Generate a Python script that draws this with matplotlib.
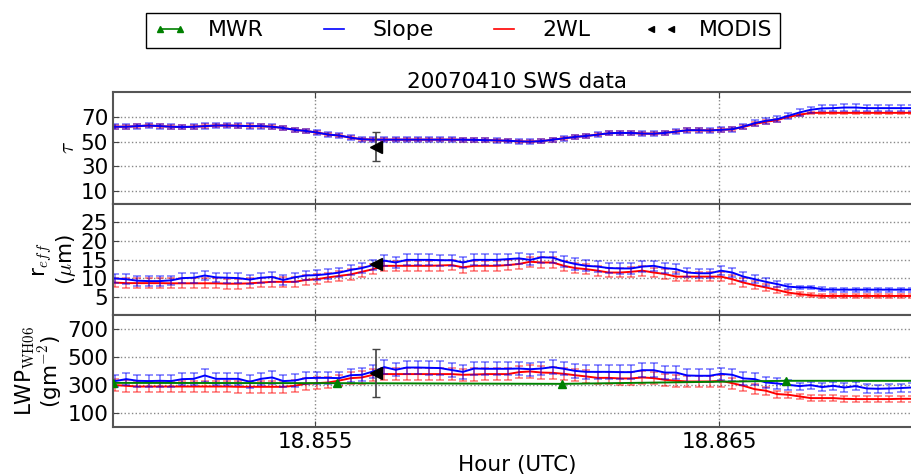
import numpy as np
import matplotlib
matplotlib.use("Agg")
import matplotlib.pyplot as plt
from matplotlib.lines import Line2D

plt.rcParams['mathtext.fontset'] = 'cm'
plt.rcParams['font.size'] = 15.5

# SWS retrievals, one every second starting 18:51:00 UTC
sec = np.arange(72)
hours = 18.85005 + sec / 3600.0

tau_slope = [62, 62, 62.5, 63, 62.5, 62, 61.8, 62, 62.5, 63, 63, 62.8, 62.5, 62.5, 62, 61,
             59.5, 58.6, 57.3, 55.7, 54.9, 53.2, 51.9, 51.6, 51.6, 51.6, 51.6, 51.6, 51.6, 51.6,
             51.6, 51.5, 51.4, 51.2, 51.0, 50.7, 50.2, 50.0, 50.4, 51.5, 52.7, 53.8, 54.6, 55.6,
             56.8, 57.0, 57.0, 56.5, 56.4, 57.0, 58.1, 59.2, 59.2, 59.0, 59.5, 60.0, 62.2, 64.9,
             66.8, 68.1, 70.8, 73.5, 75.7, 76.8, 77.0, 77.5, 77.5, 77.0, 77.0, 77.0, 77.0, 77.0]
tau_2wl = [62, 62, 62.5, 63, 62.5, 62, 61.8, 62, 62.5, 63, 63, 62.8, 62.5, 62.5, 62, 61,
           59.5, 58.6, 57.3, 55.7, 54.9, 53.2, 51.9, 51.6, 51.6, 51.6, 51.6, 51.6, 51.6, 51.6,
           51.6, 51.5, 51.4, 51.2, 51.0, 50.7, 50.2, 50.0, 50.4, 51.5, 52.7, 53.8, 54.6, 55.6,
           56.8, 57.0, 57.0, 56.5, 56.4, 57.0, 58.1, 59.2, 59.2, 59.0, 59.5, 60.0, 61.8, 64.2,
           66.0, 67.3, 70.0, 71.6, 73.2, 73.2, 73.2, 73.2, 73.2, 73.2, 73.2, 73.2, 73.2, 73.2]
tau_slope_err = [2.0, 2.0, 2.0, 2.0, 2.0, 2.0, 2.0, 2.2, 2.2, 2.2, 2.2, 2.2, 2.2, 2.0, 2.0, 2.0,
                 1.8, 1.8, 1.8, 1.8, 1.8, 1.8, 1.8, 1.8, 1.8, 1.8, 1.8, 1.8, 1.8, 1.8,
                 1.8, 1.8, 1.8, 1.8, 1.8, 1.8, 1.8, 1.8, 1.8, 1.8, 1.8, 1.8, 1.8, 1.8,
                 1.8, 1.8, 1.8, 1.8, 1.8, 1.8, 2.0, 2.0, 2.0, 2.0, 2.0, 2.0, 2.2, 2.2,
                 2.2, 2.2, 2.5, 2.5, 2.5, 2.5, 2.5, 2.5, 2.5, 2.5, 2.5, 2.5, 2.5, 2.5]
tau_2wl_err = [1.5, 1.5, 1.5, 1.5, 1.5, 1.5, 1.5, 1.5, 1.5, 1.5, 1.5, 1.5, 1.5, 1.5, 1.5, 1.5,
               1.4, 1.4, 1.4, 1.4, 1.4, 1.4, 1.4, 1.4, 1.4, 1.4, 1.4, 1.4, 1.4, 1.4,
               1.4, 1.4, 1.4, 1.4, 1.4, 1.4, 1.4, 1.4, 1.4, 1.4, 1.4, 1.4, 1.4, 1.4,
               1.4, 1.4, 1.4, 1.4, 1.4, 1.4, 1.4, 1.4, 1.4, 1.4, 1.4, 1.4, 1.4, 1.4,
               1.4, 1.2, 1.0, 1.0, 1.0, 1.0, 1.0, 1.0, 1.0, 1.0, 1.0, 1.0, 1.0, 1.0]

reff_slope = [9.9, 9.7, 9.3, 9.2, 9.2, 9.4, 10.0, 10.1, 10.7, 10.2, 10.1, 10.0, 9.6, 10.1, 10.3,
              9.5, 10.2, 10.7, 10.8, 11.1, 11.5, 12.2, 12.7, 13.5, 14.7, 14.2, 14.9, 14.9, 14.9,
              14.8, 14.8, 14.2, 14.9, 14.9, 14.9, 15.1, 15.3, 14.9, 15.6, 15.5, 14.5, 13.8, 13.3,
              13.1, 12.7, 12.6, 12.6, 13.1, 13.3, 12.7, 12.4, 11.5, 11.3, 11.3, 12.0, 11.5, 10.4,
              9.7, 9.0, 8.4, 7.7, 7.5, 7.5, 7.0, 6.9, 6.9, 6.9, 6.9, 6.9, 6.9, 6.9, 6.9]
reff_2wl = [8.8, 8.65, 8.65, 8.65, 8.65, 8.6, 8.6, 8.6, 8.6, 8.6, 8.5, 8.5, 8.6, 8.8, 9.0,
            9.0, 9.0, 9.5, 9.7, 10.2, 10.6, 11.0, 11.7, 12.4, 13.3, 13.3, 13.3, 13.3, 13.3,
            13.4, 13.5, 12.9, 13.3, 13.3, 13.3, 13.5, 13.8, 14.4, 14.2, 14.2, 13.3, 12.7, 12.4,
            12.0, 11.5, 11.5, 11.7, 12.0, 11.5, 11.1, 10.4, 10.4, 10.4, 10.4, 10.4, 9.7, 8.8,
            8.1, 7.5, 6.8, 6.1, 5.7, 5.4, 5.2, 5.2, 5.2, 5.2, 5.2, 5.2, 5.2, 5.2, 5.2]
reff_slope_err = [1.3, 1.3, 1.3, 1.3, 1.3, 1.3, 1.3, 1.3, 1.3, 1.3, 1.3, 1.3, 1.3, 1.3, 1.3,
                  1.3, 1.3, 1.3, 1.3, 1.3, 1.3, 1.4, 1.4, 1.4, 1.5, 1.5, 1.5, 1.5, 1.5,
                  1.5, 1.5, 1.5, 1.5, 1.5, 1.5, 1.5, 1.5, 1.5, 1.5, 1.5, 1.5, 1.5, 1.5,
                  1.4, 1.4, 1.4, 1.4, 1.4, 1.4, 1.4, 1.4, 1.2, 1.2, 1.2, 1.2, 1.2, 1.2,
                  1.1, 1.0, 0.8, 0.6, 0.3, 0.3, 0.5, 0.5, 0.5, 0.5, 0.5, 0.5, 0.5, 0.5, 0.5]
reff_2wl_err = [1.3, 1.3, 1.3, 1.3, 1.3, 1.3, 1.3, 1.3, 1.3, 1.3, 1.3, 1.3, 1.3, 1.3, 1.3,
                1.3, 1.3, 1.3, 1.3, 1.3, 1.3, 1.4, 1.4, 1.4, 1.4, 1.4, 1.4, 1.4, 1.4,
                1.4, 1.4, 1.4, 1.4, 1.4, 1.4, 1.4, 1.4, 1.4, 1.4, 1.4, 1.4, 1.4, 1.4,
                1.3, 1.3, 1.3, 1.3, 1.3, 1.3, 1.3, 1.3, 1.2, 1.2, 1.2, 1.2, 1.2, 1.2,
                1.1, 1.0, 0.8, 0.7, 0.6, 0.5, 0.5, 0.5, 0.5, 0.5, 0.5, 0.5, 0.5, 0.5, 0.5]

lwp_slope = [329, 343, 331, 329, 331, 329, 343, 345, 369, 345, 345, 345, 324, 345, 355,
             329, 333, 350, 352, 352, 350, 371, 374, 398, 429, 410, 426, 426, 424, 422, 408,
             395, 419, 417, 417, 417, 419, 414, 419, 429, 417, 402, 395, 395, 395, 393, 393,
             407, 407, 390, 390, 369, 367, 367, 381, 374, 348, 343, 319, 312,
             302, 293, 300, 286, 295, 283, 293, 276, 274, 276, 279, 283]
lwp_2wl = [300, 295, 290, 290, 290, 290, 290, 290, 290, 290, 290, 288, 288, 288, 288,
           288, 295, 310, 314, 319, 333, 350, 355, 374, 379, 379, 379, 379, 379, 379, 379,
           374, 376, 379, 379, 379, 393, 398, 390, 388, 381, 371, 362, 352, 352, 348, 348,
           355, 350, 338, 331, 326, 326, 326, 331, 314, 295, 271, 260, 236,
           231, 219, 207, 207, 207, 202, 200, 200, 200, 200, 202, 202]
lwp_slope_err = [45, 45, 45, 45, 45, 45, 45, 45, 45, 45, 45, 45, 45, 45, 45,
                 45, 45, 45, 45, 45, 45, 48, 48, 48, 48, 48, 48, 48, 48, 48, 48,
                 48, 48, 48, 48, 48, 48, 48, 48, 48, 48, 48, 48, 48, 48, 48, 48,
                 48, 48, 45, 45, 45, 45, 45, 45, 45, 45, 45, 40, 38,
                 35, 25, 25, 30, 30, 30, 30, 30, 30, 30, 30, 30]
lwp_2wl_err = [42, 42, 42, 42, 42, 42, 42, 42, 42, 42, 42, 42, 42, 42, 42,
               42, 42, 42, 42, 42, 42, 45, 45, 45, 45, 45, 45, 45, 45, 45, 45,
               45, 45, 45, 45, 45, 45, 45, 45, 45, 45, 45, 45, 45, 45, 45, 45,
               45, 45, 42, 42, 42, 42, 42, 42, 40, 38, 35, 30, 25,
               22, 20, 20, 20, 20, 20, 20, 20, 20, 20, 20, 20]

# microwave radiometer, every 20 s
mwr_hours = [18.85, 18.855556, 18.861111, 18.866667, 18.872222]
mwr_lwp = [316, 314, 309, 331, 331]

# MODIS overpass
modis_hour = 18.85651
modis_tau, modis_tau_err = 46, 12
modis_reff, modis_reff_err = 13.8, 0.3
modis_lwp, modis_lwp_err = 388, 170

fig = plt.figure(figsize=(9.12, 4.74), dpi=100)
left, right = 113 / 912, 921 / 912
top, bot = 1 - 92 / 474, 1 - 427 / 474
h = (top - bot) / 3
axes = [fig.add_axes([left, bot + (2 - k) * h, right - left, h]) for k in range(3)]

panels = [
    (tau_slope, tau_slope_err, tau_2wl, tau_2wl_err, modis_tau, modis_tau_err),
    (reff_slope, reff_slope_err, reff_2wl, reff_2wl_err, modis_reff, modis_reff_err),
    (lwp_slope, lwp_slope_err, lwp_2wl, lwp_2wl_err, modis_lwp, modis_lwp_err),
]
ylims = [(0, 90), (0, 30), (0, 800)]
yticks = [[10, 30, 50, 70], [5, 10, 15, 20, 25], [100, 300, 500, 700]]
ylabels = [r'$\tau$', 'r$_{eff}$\n($\mu$m)', 'LWP$_{\\rm WH06}$\n(gm$^{-2}$)']

for ax, (bs, be, rs, re, mv, me), yl, yt, lab in zip(axes, panels, ylims, yticks, ylabels):
    ax.errorbar(hours, rs, yerr=re, fmt='none', ecolor='red', alpha=0.5,
                capsize=3, elinewidth=1.2, capthick=1.2)
    ax.plot(hours, rs, color='red', lw=1.4)
    ax.errorbar(hours, bs, yerr=be, fmt='none', ecolor='blue', alpha=0.5,
                capsize=3, elinewidth=1.2, capthick=1.2)
    ax.plot(hours, bs, color='blue', lw=1.4)
    ax.errorbar([modis_hour], [mv], yerr=[me], fmt='<', color='black', ms=8,
                ecolor='#444444', capsize=3, elinewidth=1.2, zorder=5)
    ax.set_xlim(18.85, 18.87)
    ax.set_ylim(*yl)
    ax.set_yticks(yt)
    ax.set_xticks([18.855, 18.865])
    ax.grid(True, linestyle=':', color='#888888', lw=1)
    ax.tick_params(direction='in', top=True, right=True, length=4, color='#444444')
    for s in ax.spines.values():
        s.set_color('#555555')
        s.set_linewidth(1.5)
    ax.set_ylabel(lab, labelpad=2, linespacing=1.0)

axes[2].plot(mwr_hours, mwr_lwp, color='green', marker='^', ms=6, lw=1.4, zorder=4)

axes[0].set_xticklabels([])
axes[1].set_xticklabels([])
axes[2].set_xticklabels(['18.855', '18.865'])
axes[2].set_xlabel('Hour (UTC)', labelpad=2)
axes[0].set_title('20070410 SWS data', fontsize=15.5, pad=3)

handles = [
    Line2D([], [], color='green', marker='^', ms=5, lw=1.2),
    Line2D([], [], color='blue', lw=1.2),
    Line2D([], [], color='red', lw=1.2),
    Line2D([], [], color='black', marker='<', ms=5, ls='none'),
]
leg = fig.legend(handles, ['MWR', 'Slope', '2WL', 'MODIS'], loc='center',
                 bbox_to_anchor=(463 / 912, 1 - 30.4 / 474), ncol=4, fontsize=15.8,
                 numpoints=2, fancybox=False, edgecolor='black', framealpha=1,
                 columnspacing=2.45, handlelength=1.5, handletextpad=1.0, borderpad=0.35)
leg.get_frame().set_linewidth(1.0)

fig.savefig('out.png', dpi=100)
